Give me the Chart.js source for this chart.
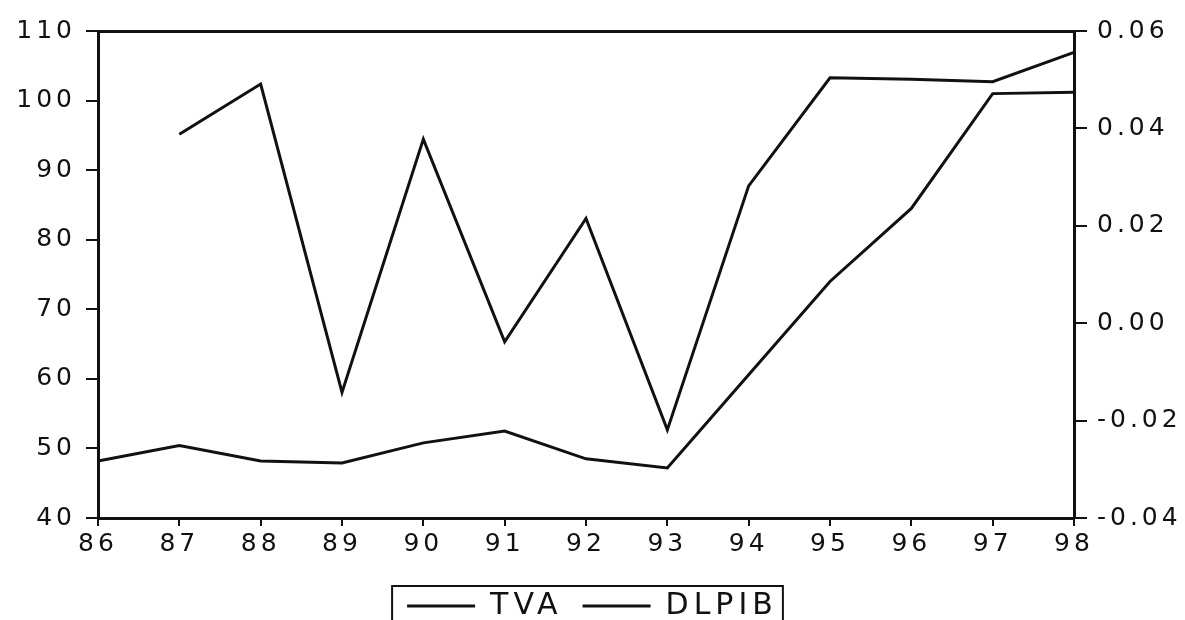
<!DOCTYPE html>
<html>
<head>
<meta charset="utf-8">
<script src="https://cdn.jsdelivr.net/npm/chart.js@4/dist/chart.umd.min.js"></script>
<style>
  html, body { margin: 0; padding: 0; background: #fff; }
  #wrap { width: 1185px; height: 620px; }
</style>
</head>
<body>
<div id="wrap"><canvas id="c" width="1185" height="620"></canvas></div>
<script>
// ---- data ----
const years = ['86', '87', '88', '89', '90', '91', '92', '93', '94', '95', '96', '97', '98'];
const tva = [48.2, 50.4, 48.2, 47.9, 50.8, 52.5, 48.5, 47.2, 60.6, 74.0, 84.5, 101.0, 101.2];
const dlpib = [null, 0.0388, 0.0491, -0.0142, 0.0378, -0.0038, 0.0215, -0.0219, 0.0282, 0.0504, 0.0501, 0.0496, 0.0556];
const leftTicks = [40, 50, 60, 70, 80, 90, 100, 110];
const rightTicks = [-0.04, -0.02, 0.00, 0.02, 0.04, 0.06];

const INK = '#111';
const FONT = 'DejaVu Sans, Liberation Sans, sans-serif';
const SPACING = '4px';
const LEGEND_SPACING = '5px';

const spacingPlugin = {
  id: 'spacing',
  beforeUpdate(chart) { chart.ctx.letterSpacing = SPACING; },
  beforeLayout(chart) {
    chart.ctx.letterSpacing = SPACING;
    const lg = chart.legend;
    if (lg && !lg._wideText) {
      lg._wideText = true;
      const wrap = (fn) => function () {
        const ctx = this.ctx;
        const prev = ctx.letterSpacing;
        ctx.letterSpacing = LEGEND_SPACING;
        const res = fn.apply(this, arguments);
        ctx.letterSpacing = prev;
        return res;
      };
      lg.fit = wrap(lg.fit);
      lg.draw = wrap(lg.draw);
    }
  },
  beforeDraw(chart) { chart.ctx.letterSpacing = SPACING; }
};

const legendBoxPlugin = {
  id: 'legendBox',
  afterDraw(chart) {
    const lg = chart.legend;
    if (!lg || !lg.legendHitBoxes || !lg.legendHitBoxes.length) return;
    const hb = lg.legendHitBoxes;
    const first = hb[0], last = hb[hb.length - 1];
    const l = first.left - 15;
    const r = last.left + last.width + 5;
    const t = first.top - 5;
    const ctx = chart.ctx;
    ctx.save();
    ctx.strokeStyle = INK;
    ctx.lineWidth = 2;
    ctx.beginPath();
    ctx.moveTo(l, 640);
    ctx.lineTo(l, t);
    ctx.lineTo(r, t);
    ctx.lineTo(r, 640);
    ctx.stroke();
    ctx.restore();
  }
};

const tickFont = { family: FONT, size: 25 };

new Chart(document.getElementById('c'), {
  type: 'line',
  data: {
    labels: years,
    datasets: [
      {
        label: 'TVA',
        data: tva,
        yAxisID: 'y',
        borderColor: INK,
        backgroundColor: INK,
        borderWidth: 3,
        pointRadius: 0,
        tension: 0,
        fill: false
      },
      {
        label: 'DLPIB',
        data: dlpib,
        yAxisID: 'y1',
        borderColor: INK,
        backgroundColor: INK,
        borderWidth: 3,
        pointRadius: 0,
        tension: 0,
        fill: false,
        spanGaps: false
      }
    ]
  },
  options: {
    responsive: false,
    animation: false,
    events: [],
    layout: { padding: { top: 0, left: 0, right: 0, bottom: -11 }, autoPadding: false },
    plugins: {
      tooltip: { enabled: false },
      legend: {
        display: true,
        position: 'bottom',
        labels: {
          color: INK,
          font: { family: FONT, size: 30 },
          boxWidth: 68,
          boxHeight: 3,
          padding: 20,
          generateLabels(chart) {
            const items = Chart.defaults.plugins.legend.labels.generateLabels(chart);
            items.forEach(it => { it.lineWidth = 0; it.fillStyle = INK; it.strokeStyle = INK; });
            return items;
          }
        }
      }
    },
    scales: {
      x: {
        type: 'category',
        position: 'bottom',
        offset: false,
        grid: { display: true, drawOnChartArea: false, drawTicks: true, tickLength: 8, color: INK, lineWidth: 2 },
        border: { display: true, color: INK, width: 3 },
        ticks: { color: INK, font: tickFont, autoSkip: false, maxRotation: 0, padding: 3 },
        afterFit(scale) {
          const lh = scale.chart.legend ? scale.chart.legend.height : 0;
          scale.height = 113 - lh;
        }
      },
      x2: {
        type: 'category',
        position: 'top',
        offset: false,
        grid: { display: false },
        border: { display: true, color: INK, width: 3 },
        ticks: { display: false },
        afterFit(scale) { scale.height = 31; }
      },
      y: {
        type: 'linear',
        position: 'left',
        min: 40,
        max: 110,
        afterBuildTicks(scale) { scale.ticks = leftTicks.map(v => ({ value: v })); },
        grid: { display: true, drawOnChartArea: false, drawTicks: true, tickLength: 12, color: INK, lineWidth: 2 },
        border: { display: true, color: INK, width: 3 },
        ticks: { color: INK, font: tickFont, padding: 10 },
        afterFit(scale) { scale.width = 98; }
      },
      y1: {
        type: 'linear',
        position: 'right',
        min: -0.04,
        max: 0.06,
        afterBuildTicks(scale) { scale.ticks = rightTicks.map(v => ({ value: v })); },
        grid: { display: true, drawOnChartArea: false, drawTicks: true, tickLength: 13, color: INK, lineWidth: 2 },
        border: { display: true, color: INK, width: 3 },
        ticks: { color: INK, font: tickFont, padding: 10, callback: v => Number(v).toFixed(2) },
        afterFit(scale) { scale.width = 111; }
      }
    }
  },
  plugins: [spacingPlugin, legendBoxPlugin]
});
</script>
</body>
</html>
